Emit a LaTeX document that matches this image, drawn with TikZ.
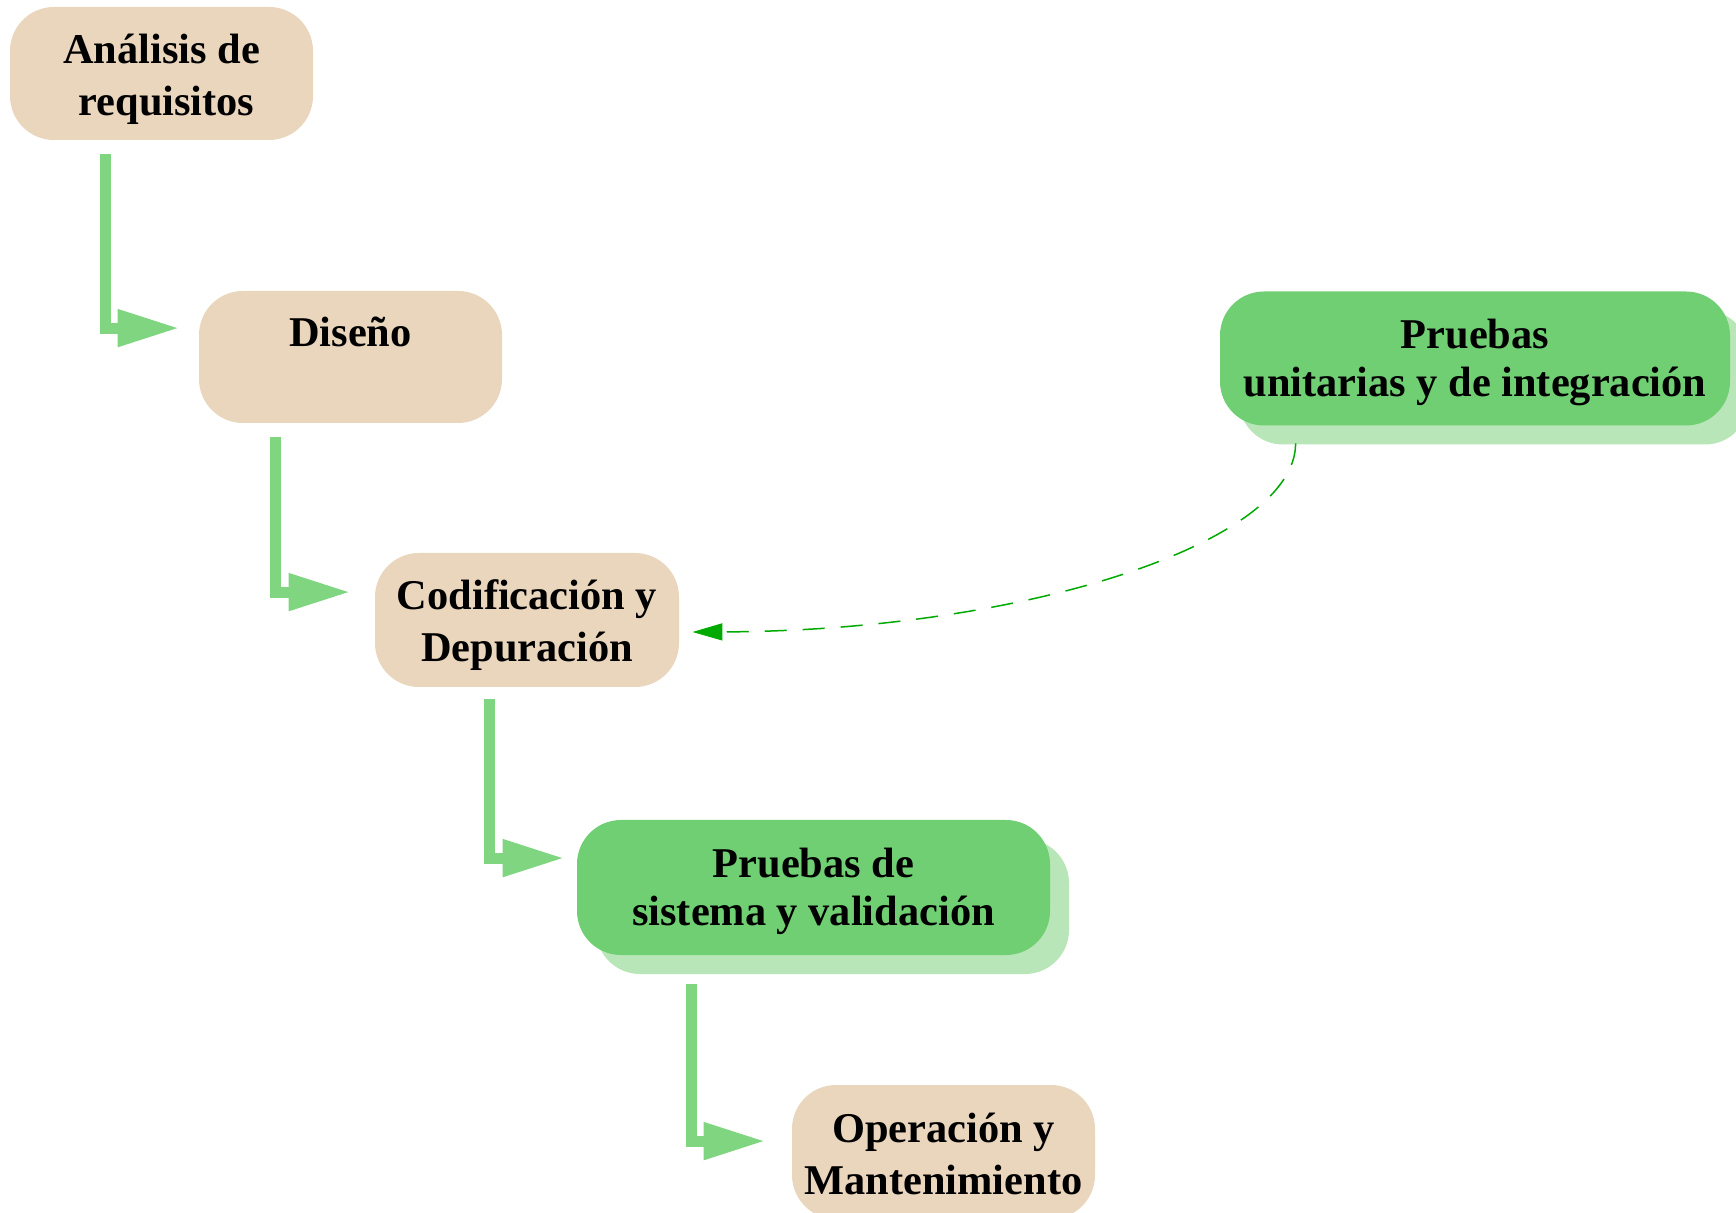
\documentclass[tikz,border=0pt]{standalone}
\usepackage{fontspec}
\setmainfont{Liberation Serif}
\usetikzlibrary{arrows.meta,calc,shadows}
\definecolor{beige}{HTML}{EAD5BD}
\definecolor{gmain}{HTML}{70CF73}
\definecolor{gshadow}{HTML}{B8E6B8}
\definecolor{garrow}{HTML}{80D680}
\definecolor{gdash}{HTML}{00AA00}
\tikzset{
  box/.style={rectangle, rounded corners=22pt, inner xsep=0pt, inner ysep=0pt,
    align=flush center, font=\fontsize{21.2}{26}\selectfont\bfseries,
    text height=15pt, text depth=25pt},
  tan/.style={box, fill=beige},
  grn/.style={box, fill=gmain, font=\fontsize{21.2}{23.8}\selectfont\bfseries,
    drop shadow={shadow xshift=9.5pt, shadow yshift=-9.5pt, fill=gshadow, opacity=1}},
  flow/.style={draw=garrow, line width=5.5pt, line join=miter,
    -{Triangle[length=31pt,width=17.5pt]}},
  back/.style={draw=gdash, line width=0.75pt, dash pattern=on 11pt off 8pt,
    -{Triangle[length=15pt,width=8.5pt]}},
}
\begin{document}
\begin{tikzpicture}[x=0.5pt,y=-0.5pt]
\useasboundingbox (0,0) rectangle (1736,1213);
\node[tan, text width=151.5pt, minimum height=66.5pt] (req) at (161.5,73.5) {Análisis de\\\hspace*{5pt}requisitos};
\node[tan, text width=151.5pt, minimum height=66pt] (dis) at (350.5,357) {Diseño};
\node[tan, text width=152pt, minimum height=67pt] (cod) at (527,620) {Codificación y\\Depuración};
\node[grn, text width=236.5pt, minimum height=67.5pt] (sis) at (813.5,887.5) {Pruebas de\\sistema y validación};
\node[grn, text width=255pt, minimum height=67pt] (uni) at (1475,358.5) {Pruebas\\unitarias y de integración};
\node[tan, text width=151.5pt, minimum height=67pt] (ope) at (943.5,1152) {Operación y\\Mantenimiento};

\draw[flow] ($(req.south west)+(95.5,14)$) |- ($(dis.north west)+(-19,37.5)$);
\draw[flow] ($(dis.south west)+(76.5,14)$) |- ($(cod.north west)+(-24,39.5)$);
\draw[flow] ($(cod.south west)+(114.5,12)$) |- ($(sis.north west)+(-12,38.5)$);
\draw[flow] ($(sis.south west)+(114.5,29)$) |- ($(ope.north west)+(-26,56.5)$);

\draw[back] ($(uni.south west)+(76,17.5)$) .. controls +(0,100) and +(330,-1) .. ($(cod.east)+(13,12)$);
\end{tikzpicture}
\end{document}
